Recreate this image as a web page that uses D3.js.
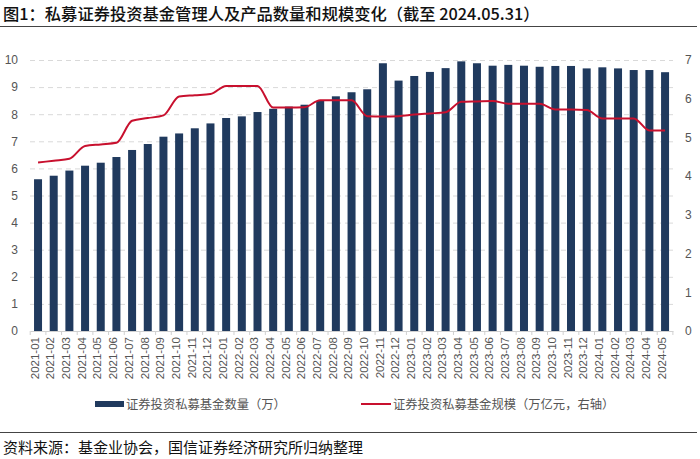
<!DOCTYPE html>
<html><head><meta charset="utf-8">
<script src="https://cdn.jsdelivr.net/npm/d3@7"></script>
<style>body{margin:0;background:#fff}svg{display:block}</style>
</head><body>
<script>
const months = ["2021-01","2021-02","2021-03","2021-04","2021-05","2021-06","2021-07","2021-08","2021-09","2021-10","2021-11","2021-12",
"2022-01","2022-02","2022-03","2022-04","2022-05","2022-06","2022-07","2022-08","2022-09","2022-10","2022-11","2022-12",
"2023-01","2023-02","2023-03","2023-04","2023-05","2023-06","2023-07","2023-08","2023-09","2023-10","2023-11","2023-12",
"2024-01","2024-02","2024-03","2024-04","2024-05"];
const fundCount = [5.60,5.73,5.92,6.10,6.21,6.42,6.68,6.90,7.17,7.29,7.48,7.66,
7.86,7.92,8.08,8.20,8.28,8.35,8.49,8.66,8.81,8.92,9.88,9.24,
9.41,9.56,9.70,9.95,9.88,9.79,9.82,9.79,9.75,9.78,9.78,9.69,
9.73,9.69,9.63,9.63,9.55];
const fundScale = [4.35,4.40,4.45,4.78,4.82,4.86,5.43,5.50,5.57,6.06,6.09,6.12,
6.33,6.33,6.33,5.77,5.77,5.78,5.96,5.96,5.96,5.55,5.54,5.55,
5.59,5.62,5.65,5.92,5.93,5.94,5.87,5.87,5.87,5.72,5.72,5.71,
5.49,5.49,5.49,5.18,5.18];
const leftTicks = [0,1,2,3,4,5,6,7,8,9,10];
const rightTicks = [0,1,2,3,4,5,6,7];
const title = "图1：私募证券投资基金管理人及产品数量和规模变化（截至 2024.05.31）";
const legendBar = "证券投资私募基金数量（万）";
const legendLine = "证券投资私募基金规模（万亿元，右轴）";
const source = "资料来源：基金业协会，国信证券经济研究所归纳整理";

const W=700,H=459;
const svg=d3.select("body").append("svg").attr("width",W).attr("height",H);
const font="'Liberation Sans', Arial, 'Noto Sans CJK SC', sans-serif";
const cjk="'Noto Sans CJK SC', sans-serif";

svg.append("text").attr("x",3).attr("y",20).attr("font-family",cjk).attr("font-size",16.3)
  .attr("font-weight",500).attr("fill","#111").text(title);
svg.append("line").attr("x1",0).attr("x2",697).attr("y1",26.5).attr("y2",26.5).attr("stroke","#444").attr("stroke-width",1);

const x=d3.scaleBand().domain(months).range([30.2,672.9]).paddingInner(0.49).paddingOuter(0.245);
const yL=d3.scaleLinear().domain([0,10]).range([331,60]);
const yR=d3.scaleLinear().domain([0,7]).range([331,60]);

// gridlines
svg.append("g").selectAll("line").data(leftTicks.filter(d=>d>0)).join("line")
  .attr("x1",30).attr("x2",673).attr("y1",d=>yL(d)+0.5).attr("y2",d=>yL(d)+0.5)
  .attr("stroke","#d9d9d9").attr("stroke-dasharray","5,4");

// bars
svg.append("g").selectAll("rect").data(months).join("rect")
  .attr("x",d=>x(d)).attr("width",x.bandwidth())
  .attr("y",(d,i)=>yL(fundCount[i])).attr("height",(d,i)=>yL(0)-yL(fundCount[i]))
  .attr("fill","#203a5e");

// x axis
const xAxis=svg.append("g").attr("transform","translate(0,331)")
  .call(d3.axisBottom(x).tickSize(0).tickSizeOuter(0));
xAxis.select(".domain").attr("stroke","#d0d0d0");
xAxis.selectAll("text").attr("font-family",font).attr("font-size",11.5).attr("fill","#555")
  .attr("transform","rotate(-90)").attr("text-anchor","end").attr("dx","-6").attr("dy","-0.2em").attr("y",0).attr("x",0)
  .style("dominant-baseline","middle");
svg.append("g").selectAll("line").data(d3.range(months.length+1)).join("line")
  .attr("x1",i=>30.2+i*x.step()).attr("x2",i=>30.2+i*x.step())
  .attr("y1",331).attr("y2",335).attr("stroke","#d0d0d0");

// left axis
const lA=svg.append("g").attr("transform","translate(21,0)")
  .call(d3.axisLeft(yL).tickValues(leftTicks).tickSize(0).tickFormat(d3.format("d")));
lA.select(".domain").remove();
lA.selectAll("text").attr("font-family",font).attr("font-size",12).attr("fill","#555");
// right axis
const rA=svg.append("g").attr("transform","translate(682,0)")
  .call(d3.axisRight(yR).tickValues(rightTicks).tickSize(0).tickFormat(d3.format("d")));
rA.select(".domain").remove();
rA.selectAll("text").attr("font-family",font).attr("font-size",12).attr("fill","#555");

// line
const line=d3.line().x((d,i)=>x(months[i])+x.bandwidth()/2).y(d=>yR(d)).curve(d3.curveMonotoneX);
svg.append("path").datum(fundScale).attr("d",line).attr("fill","none")
  .attr("stroke","#c8102e").attr("stroke-width",2);

// legend
const lg=svg.append("g");
lg.append("rect").attr("x",95).attr("y",401).attr("width",29).attr("height",6).attr("fill","#203a5e");
lg.append("text").attr("x",126).attr("y",408.5).attr("font-family",cjk).attr("font-size",12.3).attr("fill","#555").text(legendBar);
lg.append("line").attr("x1",361).attr("x2",391).attr("y1",404).attr("y2",404).attr("stroke","#c8102e").attr("stroke-width",2);
lg.append("text").attr("x",393).attr("y",408.5).attr("font-family",cjk).attr("font-size",12.3).attr("fill","#555").text(legendLine);

svg.append("line").attr("x1",0).attr("x2",697).attr("y1",432.5).attr("y2",432.5).attr("stroke","#444").attr("stroke-width",1);
svg.append("text").attr("x",3).attr("y",453).attr("font-family",cjk).attr("font-size",15).attr("fill","#111").text(source);
</script>
</body></html>
